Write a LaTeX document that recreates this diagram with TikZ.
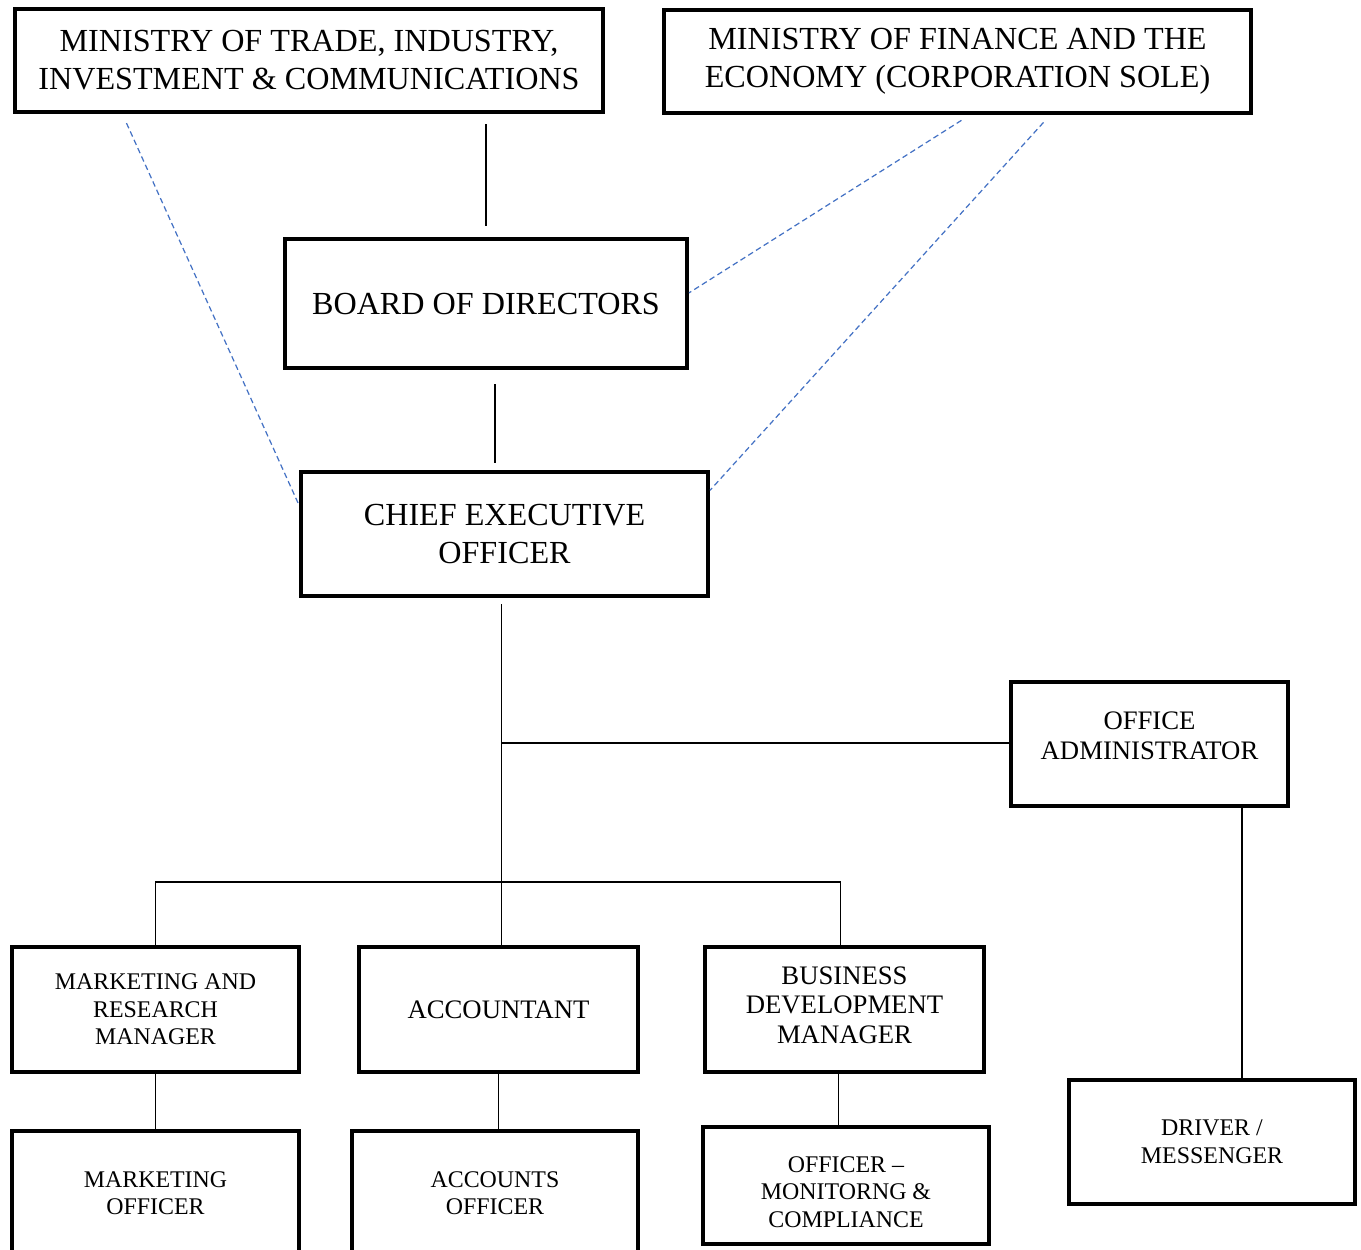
\documentclass[tikz,border=0pt]{standalone}
\usepackage{fontspec}
\setmainfont{Liberation Serif}
\usetikzlibrary{positioning}

\begin{document}
\begin{tikzpicture}[x=0.02cm,y=-0.02cm,
	box/.style={draw,line width=2.3pt,align=center,inner sep=0pt},
	bigtext/.style={font=\fontsize{18.3}{21.6}\selectfont},
	midtext/.style={font=\fontsize{15.2}{17}\selectfont},
	smalltext/.style={font=\fontsize{13.6}{15.7}\selectfont},
	link/.style={line width=1.1pt},
	dotlink/.style={line width=0.7pt,color=linkblue,dash pattern=on 3.2pt off 2pt}]
\definecolor{linkblue}{RGB}{68,114,196}
\useasboundingbox (0,0) rectangle (1361,1249);

\node[box,bigtext,minimum width=11.76cm,minimum height=2.06cm] (mtic) at (309,60.5)
	{MINISTRY OF TRADE, INDUSTRY,\\INVESTMENT \& COMMUNICATIONS};
\node[box,bigtext,minimum width=11.74cm,minimum height=2.06cm] (mfe) at (957.5,61.5)
	{MINISTRY OF FINANCE AND THE\\ECONOMY (CORPORATION SOLE)};
\node[box,bigtext,minimum width=8.04cm,minimum height=2.58cm] (bod) at (486,303.5)
	{BOARD OF DIRECTORS};
\node[box,bigtext,minimum width=8.14cm,minimum height=2.48cm] (ceo) at (504.5,534)
	{CHIEF EXECUTIVE\\OFFICER};
\node[box,midtext,text depth=10pt,minimum width=5.54cm,minimum height=2.48cm] (admin) at (1149.5,744)
	{OFFICE\\ADMINISTRATOR};
\node[box,smalltext,minimum width=5.74cm,minimum height=2.5cm] (mrm) at (155.5,1009.5)
	{MARKETING AND\\RESEARCH\\MANAGER};
\node[box,midtext,minimum width=5.58cm,minimum height=2.5cm] (acct) at (498.5,1009.5)
	{ACCOUNTANT};
\node[box,midtext,text depth=5pt,minimum width=5.58cm,minimum height=2.5cm] (bdm) at (844.5,1009.5)
	{BUSINESS\\DEVELOPMENT\\MANAGER};
\node[box,smalltext,minimum width=5.74cm,minimum height=2.48cm] (mko) at (155.5,1193)
	{MARKETING\\OFFICER};
\node[box,smalltext,minimum width=5.72cm,minimum height=2.48cm] (acco) at (495,1193)
	{ACCOUNTS\\OFFICER};
\node[box,smalltext,text height=48pt,minimum width=5.72cm,minimum height=2.34cm] (omc) at (846,1185.5)
	{OFFICER --\\MONITORNG \&\\COMPLIANCE};
\node[box,smalltext,minimum width=5.72cm,minimum height=2.48cm] (drv) at (1212,1142)
	{DRIVER /\\MESSENGER};

% solid reporting lines
\draw[link,shorten <=0.2cm,shorten >=0.22cm] (bod.north |- mtic.south) -- (bod.north);
\draw[link,shorten <=0.28cm,shorten >=0.14cm] ([xshift=0.18cm]bod.south) -- ([xshift=0.18cm]bod.south |- ceo.north);
\draw[link,shorten <=0.12cm] ([xshift=-0.06cm]ceo.south) -- ([xshift=-0.06cm]ceo.south |- acct.north);
\coordinate (jadmin) at (502,743);
\coordinate (bus) at (154,882);
\draw[link] (jadmin) -- (jadmin -| admin.west);
\draw[link] (mrm.north) -- (mrm.north |- bus) -- ([xshift=-0.08cm]bdm.north |- bus) -- ([xshift=-0.08cm]bdm.north);
\draw[link] ([xshift=1.85cm]admin.south) -- ([xshift=1.85cm]admin.south |- drv.north);
\draw[link] (mrm.south) -- (mko.north);
\draw[link] (acct.south) -- (acct.south |- acco.north);
\draw[link] ([xshift=-0.12cm]bdm.south) -- ([xshift=-0.12cm]bdm.south |- omc.north);

% dashed links
\draw[dotlink,shorten <=0.2cm] (mtic.196) -- (ceo.172);
\draw[dotlink,shorten <=0.2cm] (mfe.283) -- (bod.3);
\draw[dotlink,shorten <=0.2cm] (mfe.330) -- (ceo.12);
\end{tikzpicture}
\end{document}
